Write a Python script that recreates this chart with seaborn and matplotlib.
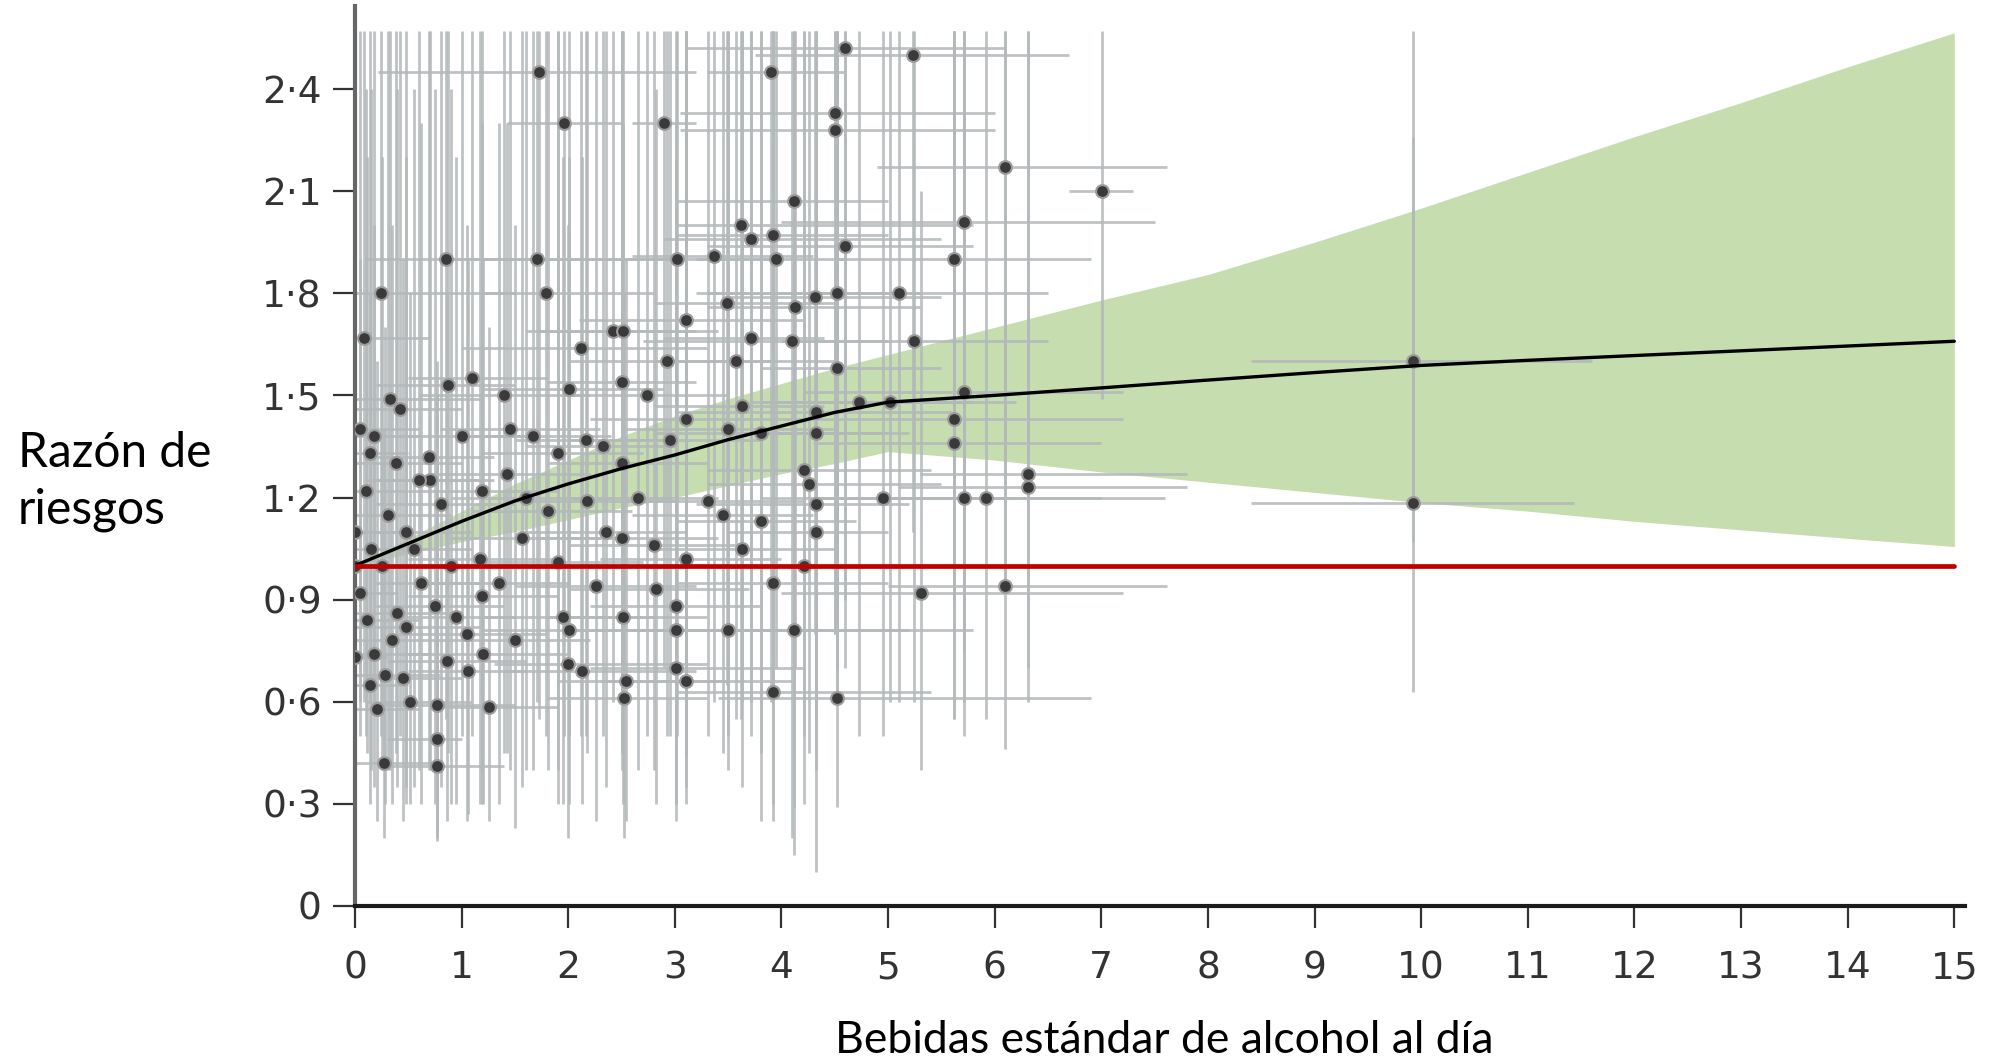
import matplotlib
matplotlib.use("Agg")
import matplotlib.pyplot as plt
import pandas as pd
import seaborn as sns

# Estudios: bebidas/día (punto, extremo inf., extremo sup.) y razón de riesgos (punto, IC inf., IC sup.)
drinks = [
    1.73, 3.90, 4.60, 5.23, 1.96, 2.90, 4.50, 4.50, 7.01, 6.10,
    4.12, 3.62, 3.71, 3.92, 4.60, 5.71, 0.85, 1.71, 3.02, 3.37,
    3.95, 5.62, 0.24, 1.79, 5.10, 0.08, 3.10, 3.49, 4.13, 4.31,
    4.52, 5.24, 4.10, 3.71, 2.12, 2.42, 2.51, 2.93, 3.57, 4.52,
    1.10, 0.87, 1.40, 2.01, 2.50, 2.74, 0.33, 0.42, 5.71, 5.02,
    4.73, 4.32, 5.62, 4.32, 5.62, 3.81, 3.50, 3.10, 2.95, 3.63,
    0.18, 0.14, 0.69, 1.00, 1.67, 2.17, 2.33, 1.43, 1.90, 2.50,
    4.21, 4.26, 4.32, 4.32, 6.31, 6.31, 5.92, 5.71, 4.95, 3.81,
    3.45, 3.31, 2.18, 1.81, 1.19, 0.81, 0.31, 0.48, 0.00, 1.57,
    2.50, 2.80, 3.63, 3.10, 1.17, 1.90, 4.21, 5.31, 6.10, 3.92,
    2.26, 2.82, 1.95, 2.51, 3.01, 1.19, 0.75, 0.39, 0.11, 0.18,
    0.48, 1.05, 2.01, 3.01, 3.50, 4.12, 1.20, 0.86, 2.00, 2.13,
    2.54, 3.01, 3.10, 3.92, 4.52, 2.52, 1.26, 0.77, 0.77, 0.27,
    0.77, 0.14, 0.21, 0.52, 1.06, 9.92, 9.92, 0.00, 0.00, 0.05,
    0.10, 0.25, 0.35, 0.45, 0.55, 0.62, 0.70, 0.90, 0.95, 1.35,
    1.50, 1.60, 2.35, 2.65, 1.45, 0.60, 0.38, 0.05, 0.28, 0.15,
]
risk = [
    2.45, 2.45, 2.52, 2.50, 2.30, 2.30, 2.33, 2.28, 2.10, 2.17,
    2.07, 2.00, 1.96, 1.97, 1.94, 2.01, 1.90, 1.90, 1.90, 1.91,
    1.90, 1.90, 1.80, 1.80, 1.80, 1.67, 1.72, 1.77, 1.76, 1.79,
    1.80, 1.66, 1.66, 1.67, 1.64, 1.69, 1.69, 1.60, 1.60, 1.58,
    1.55, 1.53, 1.50, 1.52, 1.54, 1.50, 1.49, 1.46, 1.51, 1.48,
    1.48, 1.45, 1.43, 1.39, 1.36, 1.39, 1.40, 1.43, 1.37, 1.47,
    1.38, 1.33, 1.32, 1.38, 1.38, 1.37, 1.35, 1.27, 1.33, 1.30,
    1.28, 1.24, 1.18, 1.10, 1.27, 1.23, 1.20, 1.20, 1.20, 1.13,
    1.15, 1.19, 1.19, 1.16, 1.22, 1.18, 1.15, 1.10, 1.10, 1.08,
    1.08, 1.06, 1.05, 1.02, 1.02, 1.01, 1.00, 0.92, 0.94, 0.95,
    0.94, 0.93, 0.85, 0.85, 0.88, 0.91, 0.88, 0.86, 0.84, 0.74,
    0.82, 0.80, 0.81, 0.81, 0.81, 0.81, 0.74, 0.72, 0.71, 0.69,
    0.66, 0.70, 0.66, 0.63, 0.61, 0.61, 0.585, 0.59, 0.49, 0.42,
    0.41, 0.65, 0.58, 0.60, 0.69, 1.60, 1.185, 1.00, 0.73, 0.92,
    1.22, 1.00, 0.78, 0.67, 1.05, 0.95, 1.25, 1.00, 0.85, 0.95,
    0.78, 1.20, 1.10, 1.20, 1.40, 1.25, 1.30, 1.40, 0.68, 1.05,
]
drinks_lo = [
    0.22, 3.3, 3.1, 3.75, 1.43, 2.6, 3.05, 3.05, 6.7, 4.9,
    3.0, 3.0, 2.9, 3.0, 3.3, 4.0, 0.1, 0.8, 2.0, 2.6,
    3.2, 4.5, 0.0, 1.2, 3.2, 0.0, 2.1, 2.8, 3.3, 3.5,
    3.3, 4.0, 2.7, 2.9, 1.0, 1.6, 1.7, 2.0, 2.8, 3.8,
    0.5, 0.2, 0.6, 1.2, 1.8, 2.0, 0.0, 0.0, 4.2, 3.8,
    3.7, 3.0, 4.0, 3.5, 4.3, 2.8, 2.5, 2.2, 2.0, 2.8,
    0.0, 0.0, 0.2, 0.4, 1.0, 1.5, 1.6, 0.7, 1.2, 1.8,
    3.3, 3.3, 3.2, 3.5, 5.3, 5.1, 4.3, 4.3, 3.8, 3.0,
    2.6, 2.5, 1.4, 1.1, 0.5, 0.2, 0.0, 0.0, 0.0, 0.9,
    1.7, 2.0, 2.8, 2.3, 0.5, 1.2, 3.3, 4.0, 5.0, 3.0,
    1.5, 2.0, 1.2, 1.8, 2.2, 0.5, 0.2, 0.0, 0.0, 0.0,
    0.0, 0.4, 1.2, 2.0, 2.6, 3.0, 0.5, 0.3, 1.3, 1.4,
    1.9, 2.2, 2.3, 3.0, 3.4, 1.8, 0.7, 0.2, 0.3, 0.0,
    0.3, 0.0, 0.0, 0.1, 0.5, 8.4, 8.4, 0.0, 0.0, 0.0,
    0.0, 0.0, 0.0, 0.1, 0.1, 0.2, 0.2, 0.3, 0.4, 0.7,
    0.9, 0.9, 1.6, 2.0, 0.8, 0.1, 0.0, 0.0, 0.0, 0.0,
]
drinks_hi = [
    3.2, 4.6, 6.1, 6.7, 2.5, 3.2, 6.0, 6.0, 7.3, 7.62,
    5.0, 5.8, 5.5, 5.0, 5.8, 7.5, 2.0, 3.0, 4.0, 4.3,
    4.6, 6.9, 1.5, 2.8, 6.5, 0.7, 4.2, 4.5, 5.3, 5.5,
    5.3, 6.5, 5.0, 4.4, 3.3, 3.2, 3.4, 3.9, 4.5, 5.5,
    1.8, 1.5, 2.2, 2.9, 3.2, 3.5, 1.2, 1.0, 7.2, 6.2,
    5.8, 5.6, 7.2, 5.0, 7.0, 5.2, 4.5, 4.0, 3.8, 4.4,
    0.6, 0.5, 1.3, 1.6, 2.4, 3.0, 3.0, 2.2, 2.7, 3.3,
    5.4, 5.5, 5.2, 5.0, 7.8, 7.8, 7.6, 7.0, 6.2, 4.7,
    4.3, 4.2, 3.0, 2.6, 1.9, 1.5, 0.9, 1.1, 0.4, 2.3,
    3.4, 3.6, 4.5, 4.0, 1.9, 2.7, 5.3, 7.2, 7.62, 5.0,
    3.2, 3.7, 2.8, 3.3, 3.8, 1.9, 1.4, 1.0, 0.6, 0.7,
    1.2, 1.8, 3.0, 4.0, 5.2, 5.8, 2.0, 1.6, 3.3, 3.2,
    3.5, 4.2, 4.1, 5.4, 6.9, 3.3, 1.9, 1.5, 1.0, 0.8,
    1.4, 0.5, 0.6, 1.1, 1.6, 11.6, 11.43, 0.0, 0.3, 0.4,
    0.5, 0.7, 0.9, 1.0, 1.1, 1.2, 1.3, 1.6, 1.5, 2.0,
    2.2, 2.4, 3.1, 3.4, 2.3, 1.2, 1.0, 0.6, 0.8, 0.5,
]
risk_lo = [
    0.55, 0.6, 0.9, 1.1, 0.5, 0.7, 0.8, 0.8, 1.49, 0.95,
    0.15, 0.55, 0.6, 0.7, 0.7, 0.75, 0.55, 0.6, 0.5, 0.6,
    0.7, 0.9, 0.5, 0.5, 0.6, 0.6, 0.45, 0.65, 0.7, 0.8,
    0.7, 0.6, 0.2, 0.5, 0.5, 0.6, 0.6, 0.5, 0.55, 0.6,
    0.5, 0.45, 0.45, 0.5, 0.6, 0.5, 0.4, 0.5, 0.6, 0.6,
    0.5, 0.6, 0.55, 0.55, 0.55, 0.45, 0.5, 0.45, 0.5, 0.6,
    0.6, 0.6, 0.4, 0.5, 0.4, 0.5, 0.5, 0.45, 0.4, 0.45,
    0.5, 0.45, 0.1, 0.4, 0.7, 0.6, 0.55, 0.5, 0.5, 0.25,
    0.45, 0.5, 0.45, 0.4, 0.4, 0.35, 0.4, 0.35, 0.6, 0.35,
    0.4, 0.4, 0.35, 0.35, 0.3, 0.3, 0.3, 0.4, 0.46, 0.3,
    0.25, 0.3, 0.3, 0.3, 0.3, 0.3, 0.3, 0.35, 0.45, 0.35,
    0.3, 0.25, 0.3, 0.3, 0.4, 0.29, 0.3, 0.25, 0.2, 0.3,
    0.25, 0.25, 0.3, 0.25, 0.29, 0.2, 0.25, 0.2, 0.22, 0.2,
    0.19, 0.3, 0.25, 0.3, 0.27, 1.07, 0.63, 1.0, 0.45, 0.5,
    0.5, 0.4, 0.3, 0.25, 0.35, 0.3, 0.4, 0.3, 0.3, 0.3,
    0.23, 0.4, 0.35, 0.4, 0.4, 0.4, 0.45, 0.6, 0.3, 0.4,
]
risk_hi = [
    2.57, 2.57, 2.57, 2.57, 2.57, 2.57, 2.57, 2.57, 2.57, 2.57,
    2.57, 2.57, 2.57, 2.57, 2.57, 2.57, 2.57, 2.57, 2.57, 2.57,
    2.57, 2.57, 2.57, 2.57, 2.57, 2.57, 2.57, 2.57, 2.57, 2.57,
    2.57, 2.57, 2.57, 2.57, 2.57, 2.57, 2.57, 2.57, 2.57, 2.57,
    2.57, 2.57, 2.57, 2.57, 2.57, 2.57, 2.57, 2.57, 2.57, 2.57,
    2.57, 2.57, 2.57, 2.57, 2.57, 2.57, 2.57, 2.57, 2.57, 2.57,
    2.57, 2.57, 2.57, 2.57, 2.57, 2.57, 2.57, 2.30, 2.57, 2.57,
    2.57, 2.57, 2.57, 2.40, 2.57, 2.57, 2.57, 2.57, 2.57, 2.57,
    2.57, 2.57, 2.57, 2.57, 2.57, 2.57, 2.57, 2.57, 2.00, 2.57,
    2.57, 2.57, 2.57, 2.57, 2.57, 2.57, 2.57, 2.10, 2.57, 2.57,
    2.57, 2.40, 2.20, 2.30, 2.57, 2.30, 2.40, 2.40, 2.20, 2.00,
    2.20, 2.00, 2.20, 2.30, 2.57, 2.57, 1.90, 1.80, 2.00, 2.20,
    1.90, 2.20, 2.57, 2.57, 2.57, 1.80, 1.70, 1.60, 1.50, 1.40,
    1.30, 1.80, 1.60, 1.80, 1.90, 2.57, 2.26, 1.00, 1.50, 1.90,
    2.40, 2.20, 2.00, 1.90, 2.40, 2.30, 2.57, 2.40, 2.20, 2.30,
    2.00, 2.57, 2.57, 2.57, 2.57, 2.57, 2.57, 2.57, 1.70, 2.40,
]

# Curva dosis-respuesta y su intervalo de confianza
curve_x = [0, 0.5, 1, 1.5, 2, 2.5, 3, 3.5, 4, 4.5, 5, 6, 7, 8, 9, 10, 11, 12, 13, 14, 15]
curve_rr = [1.0, 1.065, 1.13, 1.19, 1.24, 1.285, 1.325, 1.37, 1.41, 1.45, 1.48,
            1.50, 1.522, 1.545, 1.567, 1.588, 1.603, 1.617, 1.631, 1.645, 1.659]
band_hi = [1.0, 1.08, 1.16, 1.24, 1.31, 1.38, 1.44, 1.49, 1.535, 1.58, 1.62,
           1.70, 1.78, 1.855, 1.95, 2.05, 2.155, 2.26, 2.36, 2.465, 2.565]
band_lo = [1.0, 1.035, 1.07, 1.10, 1.135, 1.17, 1.20, 1.235, 1.27, 1.30, 1.335,
           1.31, 1.275, 1.245, 1.215, 1.185, 1.16, 1.13, 1.105, 1.08, 1.056]

ref_x = [0, 15]
ref_rr = [1.0, 1.0]

x_ticks = list(range(16))
y_ticks = [0, 0.3, 0.6, 0.9, 1.2, 1.5, 1.8, 2.1, 2.4]
y_labels = ["0", "0·3", "0·6", "0·9", "1·2", "1·5", "1·8", "2·1", "2·4"]

df = pd.DataFrame({"drinks": drinks, "risk": risk, "drinks_lo": drinks_lo,
                   "drinks_hi": drinks_hi, "risk_lo": risk_lo, "risk_hi": risk_hi})

sns.set_theme(style="white")
plt.rcParams["font.family"] = ["Lato", "DejaVu Sans"]

fig = plt.figure(figsize=(19.9, 10.63), dpi=100)
ax = fig.add_axes([0.1784, 0.1477, 0.809, 0.8467])

# banda verde
ax.fill_between(curve_x, band_lo, band_hi, color="#c6ddb0", lw=0, zorder=1)

# barras de error
ax.errorbar(df["drinks"], df["risk"],
            xerr=[df["drinks"] - df["drinks_lo"], df["drinks_hi"] - df["drinks"]],
            yerr=[df["risk"] - df["risk_lo"], df["risk_hi"] - df["risk"]],
            fmt="none", ecolor="#b3b8ba", elinewidth=2.0, alpha=0.85, zorder=2)

sns.scatterplot(data=df, x="drinks", y="risk", s=85, color="#3a3a3a",
                edgecolor="#9c9c9c", linewidth=1.5, zorder=4, ax=ax)

sns.lineplot(x=curve_x, y=curve_rr, color="black", lw=2.4, zorder=5, ax=ax)
sns.lineplot(x=ref_x, y=ref_rr, color="#c00000", lw=3.4, zorder=6, ax=ax)

ax.set_xlim(0, 15.1)
ax.set_ylim(0, 2.644)
ax.set_xticks(x_ticks)
ax.set_xticklabels([str(t) for t in x_ticks])
ax.set_yticks(y_ticks)
ax.set_yticklabels(y_labels)
ax.set_xlabel("")
ax.set_ylabel("")

sns.despine(ax=ax)
ax.spines["left"].set_color("#666666")
ax.spines["left"].set_linewidth(3)
ax.spines["bottom"].set_color("#1a1a1a")
ax.spines["bottom"].set_linewidth(3)

ax.tick_params(axis="both", bottom=True, left=True, length=16, width=1.6,
               colors="#333333", labelsize=27)
ax.tick_params(axis="x", pad=16)
ax.tick_params(axis="y", pad=8)
for lbl in ax.get_xticklabels() + ax.get_yticklabels():
    lbl.set_fontfamily("DejaVu Sans")

fig.text(0.009, 0.547, "Razón de\nriesgos", fontsize=34.5, ha="left", va="center",
         linespacing=1.35, color="black")
fig.text(0.585, 0.0094, "Bebidas estándar de alcohol al día", fontsize=32,
         ha="center", va="baseline", color="black")

fig.savefig("out.png", dpi=100)
